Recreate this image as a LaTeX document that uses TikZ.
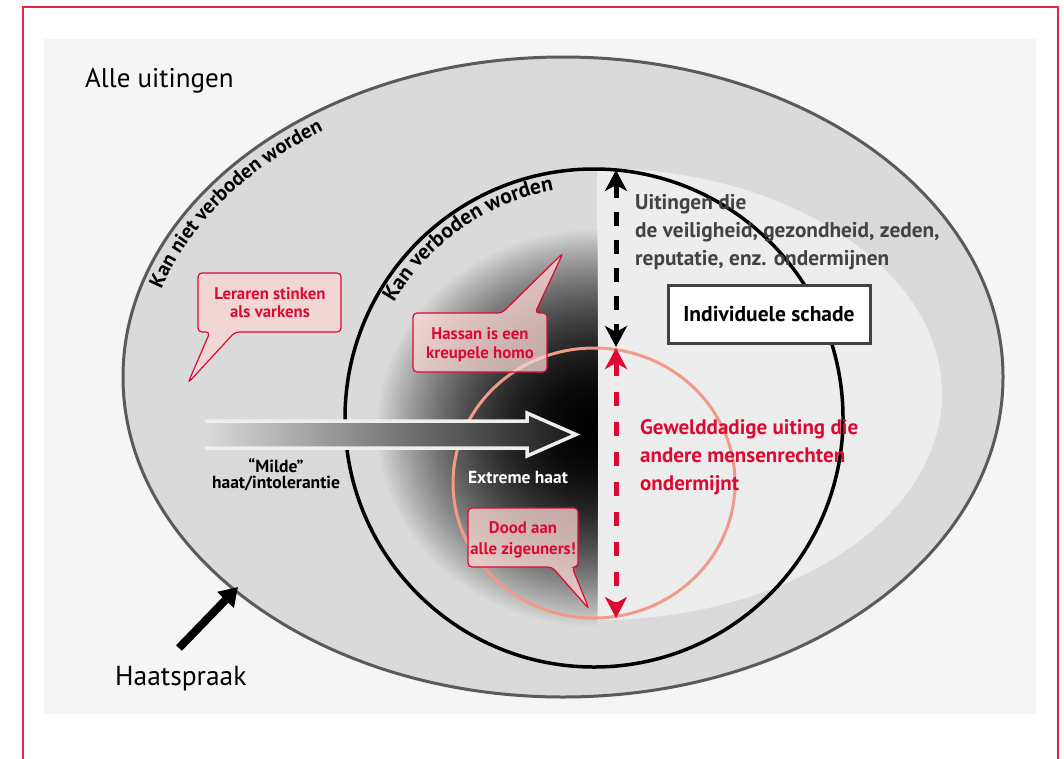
\documentclass[tikz,border=0pt]{standalone}
\usepackage{fontspec}
\setmainfont{PT Sans}
\usetikzlibrary{arrows.meta,decorations.text}
\definecolor{bgc}{HTML}{F5F5F5}
\definecolor{ringc}{HTML}{DADADA}
\definecolor{lightc}{HTML}{EDEDED}
\definecolor{edgec}{HTML}{5A5A5A}
\definecolor{framec}{HTML}{DE2846}
\definecolor{crim}{HTML}{DC0A32}
\definecolor{salmonc}{HTML}{F29A88}
\definecolor{darktext}{HTML}{424242}
\definecolor{bubfill}{HTML}{FAD7D2}
\definecolor{outlinec}{HTML}{EEEEEE}
\newcommand{\fsz}[1]{\fontsize{#1}{#1}\selectfont}
\tikzset{hdtip/.tip={Stealth[length=21pt,width=22pt,inset=6pt]}}
\begin{document}
\begin{tikzpicture}[x=1pt,y=-1pt,
  txt/.style={inner sep=0pt, anchor=base west},
  ctxt/.style={inner sep=0pt, anchor=base},
  bubble/.style={draw=crim, line width=1.2pt, fill=bubfill, fill opacity=0.75, rounded corners=4pt},
  bubtext/.style={ctxt, text=crim, font=\bfseries\fsz{16.8}},
  graytext/.style={txt, text=darktext, font=\bfseries\fsz{21.3}},
  redtext/.style={txt, text=crim, font=\bfseries\fsz{21}}
]
\useasboundingbox (0,0) rectangle (1064,758);
\clip (0,0) rectangle (1064,758);
\fill[white] (0,0) rectangle (1064,758);
\draw[framec, line width=1.5pt] (23,7) rectangle (1058,800);
\fill[bgc] (44,39) rectangle (1036,714);

% outer ellipse
\fill[ringc] (563,377) ellipse [x radius=440, y radius=320];
% light right region
\begin{scope}
  \clip (597,0) rectangle (1064,758);
  \fill[lightc] (597,394) ellipse [x radius=345, y radius=226];
\end{scope}
% dark radial gradient (left half)
\begin{scope}
  \clip (0,0) rectangle (597,758);
  \foreach \i in {0,...,109}{
    \pgfmathsetmacro\ss{1-\i/110}
    \pgfmathsetmacro\gg{100*\ss*\ss}
    \fill[ringc!\gg!black] (597,428) ellipse [x radius=222*\ss, y radius=200*\ss];
  }
\end{scope}
\draw[edgec, line width=3pt] (563,377) ellipse [x radius=440, y radius=320];
\draw[black, line width=3.5pt] (594,418) circle [radius=249];
\draw[salmonc, line width=3pt] (594,483) ellipse [x radius=141, y radius=135];

% curved labels
\path[decorate, decoration={text along path, text={|\bfseries\fsz{20.5}|Kan niet verboden worden}}]
  (563,377) ++(197:420 and 300) arc [start angle=197, end angle=268, x radius=420, y radius=300];
\path[decorate, decoration={text along path, text={|\bfseries\fsz{21.5}|Kan verboden worden}}]
  (594,418) ++(210:231) arc [start angle=210, end angle=285, radius=231];

% gradient arrow
\shade[left color=ringc, right color=black!90]
  (205,421) -- (527,421) -- (527,413) -- (576,434.5) -- (527,456) -- (527,448) -- (205,448) -- cycle;
\draw[outlinec, line width=3.5pt, line join=miter]
  (205,421) -- (527,421) -- (527,413) -- (576,434.5) -- (527,456) -- (527,448) -- (205,448);

% dashed arrows
\coordinate (bkTop) at (616,170);
\coordinate (bkBot) at (616,347);
\coordinate (rdTop) at (616,348);
\coordinate (rdBot) at (616,618);
\draw[black, line width=5pt, dash pattern=on 14pt off 14pt, hdtip-hdtip] (bkTop) -- (bkBot);
\draw[crim, line width=5pt, dash pattern=on 14pt off 16pt, hdtip-hdtip] (rdTop) -- (rdBot);

% texts
\node[txt, font=\fsz{27}] (alle) at (85,87) {Alle uitingen};
\node[txt, font=\fsz{27.5}] (haat) at (115,685) {Haatspraak};
\node[graytext] (g1) at (635,209) {Uitingen die};
\node[graytext] (g2) at (635,237) {de veiligheid, gezondheid, zeden,};
\node[graytext] (g3) at (635,265) {reputatie, enz. ondermijnen};
\node[draw=darktext, line width=3pt, fill=white, minimum width=202pt, minimum height=58pt,
      inner sep=0pt, font=\bfseries\fsz{21.5}] (box) at (769,314) {Individuele schade};
\node[redtext] (r1) at (640,434) {Gewelddadige uiting die};
\node[redtext] (r2) at (640,462) {andere mensenrechten};
\node[redtext] (r3) at (640,490) {ondermijnt};
\node[ctxt, text=white, font=\bfseries\fsz{17.5}] (ext) at (518,483) {Extreme haat};
\node[ctxt, font=\bfseries\fsz{17.5}] (m1) at (276,472) {“Milde”};
\node[ctxt, font=\bfseries\fsz{17.5}] (m2) at (276,488) {haat/intolerantie};

% speech bubbles
\path[bubble] (198,303) -- (198,273) -- (341,273) -- (341,332) -- (235,332) -- (188,383) -- (210,332) -- (198,332) -- cycle;
\node[bubtext] (b1a) at (270,299) {Leraren stinken};
\node[bubtext] (b1b) at (270,317) {als varkens};

\path[bubble] (413,343) -- (413,313) -- (502,313) -- (563,253) -- (535,313) -- (547,313) -- (547,372) -- (413,372) -- cycle;
\node[bubtext] (b2a) at (480,339) {Hassan is een};
\node[bubtext] (b2b) at (480,358) {kreupele homo};

\path[bubble] (468,538) -- (468,508) -- (578,508) -- (578,567) -- (572,567) -- (589,609) -- (552,567) -- (468,567) -- cycle;
\node[bubtext] (b3a) at (523,533) {Dood aan};
\node[bubtext] (b3b) at (523,554) {alle zigeuners!};

% Haatspraak arrow
\coordinate (hsTail) at (179,648);
\coordinate (hsTip) at (238,587);
\draw[black, line width=8pt, -{Triangle[length=18pt,width=22pt]}] (hsTail) -- (hsTip);
\end{tikzpicture}
\end{document}
